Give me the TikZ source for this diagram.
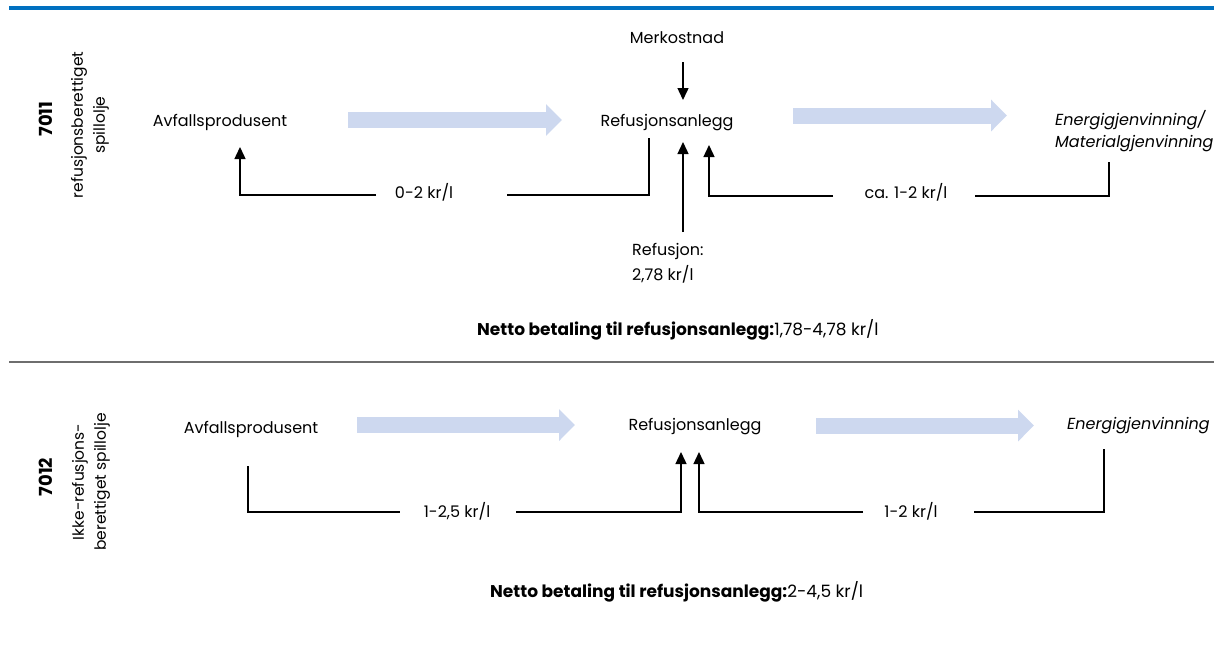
\documentclass[tikz,border=0pt]{standalone}
\usepackage{fontspec}
\setmainfont{Poppins}
\usetikzlibrary{arrows.meta}

\definecolor{rulblue}{RGB}{0,112,192}
\definecolor{rulgray}{RGB}{110,110,110}
\definecolor{flowblue}{RGB}{205,216,239}
\newcommand\txtsize{\fontsize{16}{22}\selectfont}
\newcommand\sidesize{\fontsize{15.5}{22}\selectfont}

\tikzset{
 txt/.style={inner sep=0pt,font=\txtsize},
 side/.style={inner sep=0pt,font=\sidesize,rotate=90,align=center},
 num/.style={inner sep=0pt,font=\fontsize{18}{22}\selectfont\bfseries,rotate=90,anchor=base},
 net/.style={inner sep=0pt,font=\fontsize{17}{22}\selectfont,anchor=base west},
 flow/.style={draw=flowblue,line width=16pt,-{Triangle[length=16pt,width=31pt]}},
 pay/.style={line width=1.4pt},
 >={Triangle[length=12pt,width=11pt]},
}

\begin{document}
\begin{tikzpicture}[x=1pt,y=-1pt]
\useasboundingbox (0,0) rectangle (1214,645);

% rules
\draw[rulblue,line width=4pt] (9,8) -- (1214,8);
\draw[rulgray,line width=2pt] (9,362) -- (1214,362);

% 7011
 \node[num] (num1) at (52,119) {7011};
 \node[side] (type1) at (90,125) {refusjonsberettiget\\spillolje};
 \node[txt,anchor=base] (prod1) at (220,126) {Avfallsprodusent};
 \node[txt,anchor=base] (ref1) at (667,126) {Refusjonsanlegg};
 \node[txt,anchor=base] (cost1) at (677,43) {Merkostnad};
 \node[txt,anchor=base west,align=left,font=\txtsize\itshape] (rec1) at (1055,147) {Energigjenvinning/\\Materialgjenvinning};
 \node[txt,anchor=base west,align=left,font=\fontsize{16}{25}\selectfont] (refund1) at (632,280) {Refusjon:\\2,78 kr/l};
 \node[txt,anchor=base] (pay1a) at (424,198) {0-2 kr/l};
 \node[txt,anchor=base] (pay1b) at (906,198) {ca. 1-2 kr/l};
 \node[net] (net1) at (477,335) {\textbf{Netto betaling til refusjonsanlegg:}1,78-4,78 kr/l};

 \coordinate (f1a) at (348,120);
 \coordinate (f1b) at (562,120);
 \coordinate (f2a) at (793,115.5);
 \coordinate (f2b) at (1007,115.5);
 \coordinate (a1) at (649,138);
 \coordinate (a2) at (507,195);
 \coordinate (a3) at (376,195);
 \coordinate (a4) at (240,147);
 \coordinate (b1) at (1109,162);
 \coordinate (b2) at (975,196);
 \coordinate (b3) at (833,196);
 \coordinate (b4) at (709,145);
 \coordinate (c1) at (683,62);
 \coordinate (c2) at (683,100);
 \coordinate (d1) at (683,232);
 \coordinate (d2) at (683,142);

\path[draw,flow] (f1a) -- (f1b);
\path[draw,flow] (f2a) -- (f2b);
\path[draw,pay] (a1) |- (a2);
\path[draw,pay,->] (a3) -| (a4);
\path[draw,pay] (b1) |- (b2);
\path[draw,pay,->] (b3) -| (b4);
\path[draw,pay,->] (c1) -- (c2);
\path[draw,pay,->] (d1) -- (d2);

% 7012
 \node[num] (num2) at (52,477) {7012};
 \node[side] (type2) at (91,482) {Ikke-refusjons-\\berettiget spillolje};
 \node[txt,anchor=base] (prod2) at (251,433) {Avfallsprodusent};
 \node[txt,anchor=base] (ref2) at (695,430) {Refusjonsanlegg};
 \node[txt,anchor=base west,font=\txtsize\itshape] (rec2) at (1067,429) {Energigjenvinning};
 \node[txt,anchor=base] (pay2a) at (457,517) {1-2,5 kr/l};
 \node[txt,anchor=base] (pay2b) at (911,517) {1-2 kr/l};
 \node[net] (net2) at (490,597) {\textbf{Netto betaling til refusjonsanlegg:}2-4,5 kr/l};

 \coordinate (f3a) at (357,425);
 \coordinate (f3b) at (575,425);
 \coordinate (f4a) at (816,425.5);
 \coordinate (f4b) at (1034,425.5);
 \coordinate (g1) at (248,466);
 \coordinate (g2) at (400,512);
 \coordinate (g3) at (516,512);
 \coordinate (g4) at (681,452);
 \coordinate (h1) at (1104,449);
 \coordinate (h2) at (974,512);
 \coordinate (h3) at (863,512);
 \coordinate (h4) at (699,452);

\path[draw,flow] (f3a) -- (f3b);
\path[draw,flow] (f4a) -- (f4b);
\path[draw,pay] (g1) |- (g2);
\path[draw,pay,->] (g3) -| (g4);
\path[draw,pay] (h1) |- (h2);
\path[draw,pay,->] (h3) -| (h4);
\end{tikzpicture}
\end{document}
